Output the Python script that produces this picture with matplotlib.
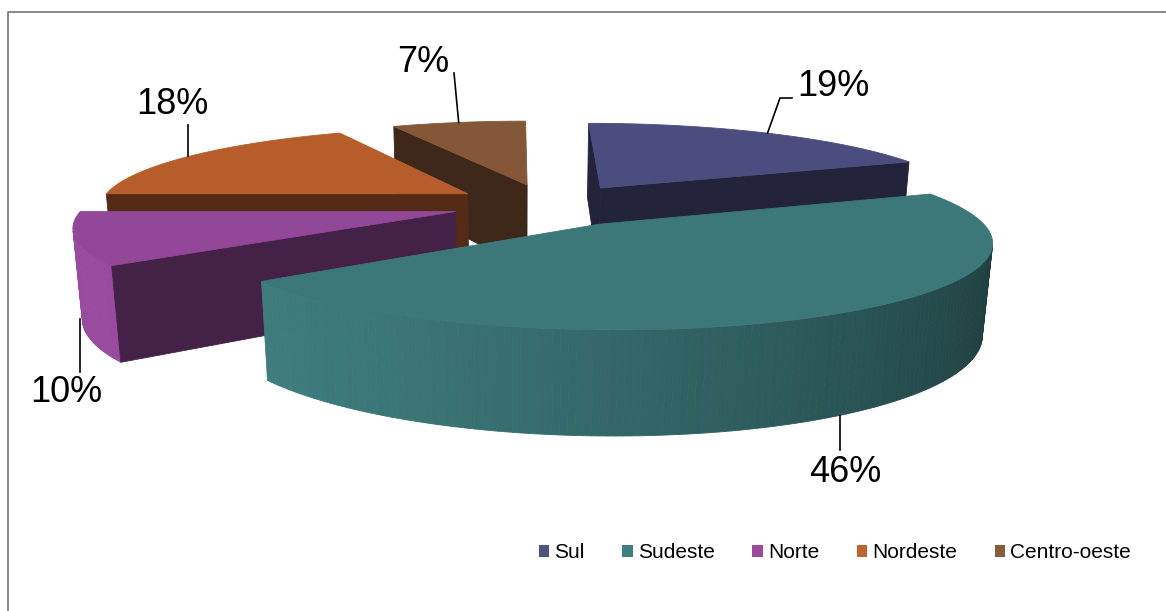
import numpy as np
import matplotlib
matplotlib.use("Agg")
import matplotlib.pyplot as plt
from matplotlib.patches import Polygon, Patch
from matplotlib.colors import to_rgb

# regional shares (%)
regions = ["Sul", "Sudeste", "Norte", "Nordeste", "Centro-oeste"]
shares = [19, 46, 10, 18, 7]
colors = ["#4F5185", "#3F7E7F", "#9A4BA0", "#C0622D", "#8A5C3B"]
labels = [f"{v}%" for v in shares]

W, H = 1166, 611

# perspective camera for the 3d pie (unit radius, top face at z=0)
CAM = np.array([-0.089, -5.376, 1.156])
TILT = 0.479
FOCAL = 1962.5
PX, PY = 515.9, 742.1
THICK = 0.2375
EXPLODE = 0.263

fwd = np.array([0, np.cos(TILT), -np.sin(TILT)])
up = np.array([0, np.sin(TILT), np.cos(TILT)])


def project(x, y, z):
    d = np.array([x, y, z]) - CAM
    depth = d @ fwd
    return PX + FOCAL * d[0] / depth, PY - FOCAL * (d @ up) / depth


def shade(c, k):
    return tuple(np.clip(np.array(to_rgb(c)) * k, 0, 1))


def wall_factor(theta):
    # light coming from the left/front-left
    return 0.45 + 0.55 * (1 + np.cos(theta - np.radians(250))) / 2


fig = plt.figure(figsize=(W / 100, H / 100), dpi=100)
ax = fig.add_axes([0, 0, 1, 1])
ax.set_xlim(0, W)
ax.set_ylim(H, 0)
ax.axis("off")

frac = np.array(shares) / sum(shares)
bounds = np.concatenate([[0], np.cumsum(frac)]) * 360
cam_xy = CAM[:2]

slices = []
for i in range(len(shares)):
    a0, a1 = np.radians(bounds[i]), np.radians(bounds[i + 1])
    mid = (a0 + a1) / 2
    off = EXPLODE * np.array([np.sin(mid), np.cos(mid)])
    cen = off + 0.5 * np.array([np.sin(mid), np.cos(mid)])
    slices.append((np.hypot(*(cen - cam_xy)), i, a0, a1, mid, off))

# far slices first
slices.sort(key=lambda s: -s[0])

edges = {}
for dist, i, a0, a1, mid, off in slices:
    base = colors[i]
    th = np.linspace(a0, a1, max(int(np.degrees(a1 - a0)), 2) + 1)
    arc_x = off[0] + np.sin(th)
    arc_y = off[1] + np.cos(th)

    # outer wall, segment by segment
    for j in range(len(th) - 1):
        tm = (th[j] + th[j + 1]) / 2
        n = np.array([np.sin(tm), np.cos(tm)])
        if n @ (cam_xy - (off + n)) <= 0:
            continue
        pts = [project(arc_x[j], arc_y[j], 0), project(arc_x[j + 1], arc_y[j + 1], 0),
               project(arc_x[j + 1], arc_y[j + 1], -THICK), project(arc_x[j], arc_y[j], -THICK)]
        c = shade(base, wall_factor(tm))
        ax.add_patch(Polygon(pts, closed=True, fc=c, ec=c, lw=0.6))

    # radial cut faces
    for ang, nang in ((a0, a0 - np.pi / 2), (a1, a1 + np.pi / 2)):
        n = np.array([np.sin(nang), np.cos(nang)])
        if n @ (cam_xy - off) <= 0:
            continue
        ox, oy = off[0] + np.sin(ang), off[1] + np.cos(ang)
        pts = [project(off[0], off[1], 0), project(ox, oy, 0),
               project(ox, oy, -THICK), project(off[0], off[1], -THICK)]
        c = shade(base, 0.44)
        ax.add_patch(Polygon(pts, closed=True, fc=c, ec=c, lw=0.6))

    # top face
    top = [project(off[0], off[1], 0)] + [project(x, y, 0) for x, y in zip(arc_x, arc_y)]
    c = shade(base, 0.95)
    ax.add_patch(Polygon(top, closed=True, fc=c, ec=c, lw=0.6))

    # fine outer edges kept for the label leaders
    tt = np.linspace(a0, a1, 400)
    ex, ey = off[0] + np.sin(tt), off[1] + np.cos(tt)
    edges[i] = {
        "mid": project(off[0] + np.sin(mid), off[1] + np.cos(mid), 0),
        "top": np.array([project(x, y, 0) for x, y in zip(ex, ey)]),
        "bottom": np.array([project(x, y, -THICK) for x, y in zip(ex, ey)]),
    }

# data labels with leader lines
label_xy = [(833, 87), (845, 472), (66, 392), (172, 104), (423, 62)]
# vertical leaders: (edge, x, y end); others run from the mid-angle point
vertical = {1: ("bottom", 840, 450), 2: ("bottom", 80, 372), 3: ("top", 188, 125)}
bent = {0: [(780, 98), (792, 98)], 4: [(454, 73)]}
for i in range(len(shares)):
    if i in vertical:
        which, lx, ly = vertical[i]
        e = edges[i][which]
        near = np.abs(e[:, 0] - lx) < 2
        if not near.any():
            near = np.abs(e[:, 0] - lx) == np.abs(e[:, 0] - lx).min()
        cand = e[near]
        y0 = cand[:, 1].max() if which == "bottom" else cand[:, 1].min()
        pts = [(lx, y0), (lx, ly)]
    else:
        pts = [edges[i]["mid"]] + bent[i]
    ax.plot([p[0] for p in pts], [p[1] for p in pts], color="black", lw=1.2)
    ax.text(*label_xy[i], labels[i], ha="center", va="center",
            fontsize=26, family="Liberation Sans")

# chart border
ax.plot([8, 8, W + 5], [H + 5, 12, 12], color="#808080", lw=1.3, clip_on=False)

handles = [Patch(fc=c, ec="none") for c in colors]
fig.legend(handles, regions, loc="center", bbox_to_anchor=(835 / W, 1 - 553 / H),
           ncol=5, frameon=False, prop={"family": "Liberation Sans", "size": 15},
           handlelength=0.5, handleheight=0.5, handletextpad=0.25, columnspacing=1.8)

fig.savefig("out.png", dpi=100)
